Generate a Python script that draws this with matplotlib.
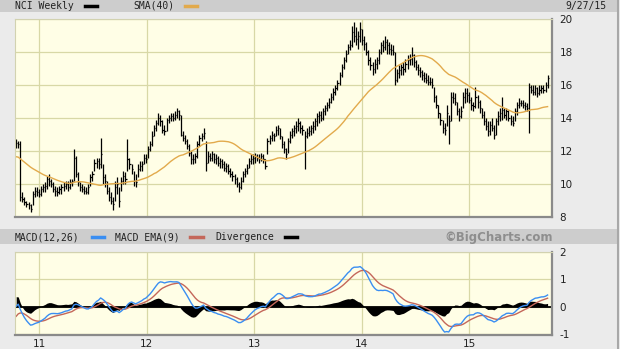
import numpy as np
import pandas as pd
import matplotlib
matplotlib.use("Agg")
import matplotlib.pyplot as plt
from matplotlib.patches import Rectangle
from matplotlib.lines import Line2D

# ---------------- data (weekly) ----------------
# estimated closes before the visible window (warm-up for SMA / MACD)
prior_close = [13.8, 14.0, 14.2, 14.1, 13.9, 14.0, 14.3, 14.5, 14.4, 14.2, 14.0, 13.8, 13.6,
               13.4, 13.2, 13.1, 13.0, 12.9, 12.7, 12.6, 12.7, 12.5, 12.4, 12.6, 12.5, 12.3, 12.2, 12.1,
               12.1, 11.9, 11.8, 11.6, 11.7, 11.5, 11.4, 11.3, 11.1,
               11.0, 10.4, 9.9, 9.6, 9.5, 9.6, 9.7, 9.9, 10.2, 10.6, 11.0, 11.4, 11.8, 12.1, 12.3]

close_2010 = [12.5, 12.4, 9.2, 9.1, 8.9, 8.8, 8.7, 8.5, 9.4, 9.6, 9.5, 9.4]
high_2010 = [12.7, 12.6, 12.6, 9.5, 9.2, 9.0, 8.9, 8.8, 9.6, 9.8, 9.8, 9.7]
low_2010 = [12.2, 12.2, 9.0, 8.9, 8.7, 8.6, 8.5, 8.3, 8.7, 9.2, 9.3, 9.2]

close_2011 = [9.7, 9.8, 9.9, 10.3, 10.2, 10.0, 9.7, 9.6, 9.5, 9.7,
              9.8, 9.9, 10.0, 9.8, 10.1, 10.2, 11.6, 10.6, 10.1, 9.8,
              9.7, 9.6, 9.5, 9.8, 10.4, 10.6, 11.3, 11.4, 11.2, 11.8,
              10.4, 10.2, 9.6, 9.2, 9.0, 8.8, 9.8, 10.0, 9.0, 10.2,
              10.5, 10.3, 11.5, 11.2, 10.9, 10.2, 10.1, 10.9, 11.1, 11.2,
              11.6, 11.5]
high_2011 = [9.9, 10.0, 10.1, 10.5, 10.6, 10.3, 10.1, 9.9, 9.8, 9.9,
             10.0, 10.1, 10.2, 10.2, 10.3, 10.3, 12.1, 11.7, 10.7, 10.1,
             10.0, 9.9, 9.8, 10.0, 10.6, 10.8, 11.5, 11.6, 11.6, 12.8,
             11.2, 10.6, 10.2, 9.8, 9.5, 9.2, 10.2, 10.4, 9.8, 10.4,
             10.8, 10.7, 12.7, 11.6, 11.2, 10.8, 10.6, 11.2, 11.4, 11.4,
             11.8, 11.8]
low_2011 = [9.3, 9.5, 9.5, 9.7, 9.9, 9.8, 9.5, 9.3, 9.3, 9.4,
            9.4, 9.6, 9.7, 9.6, 9.7, 9.9, 10.2, 10.4, 9.9, 9.6,
            9.5, 9.4, 9.4, 9.4, 9.9, 10.2, 10.8, 11.0, 10.9, 11.0,
            10.0, 9.8, 9.4, 9.0, 8.8, 8.4, 9.0, 9.4, 8.6, 9.6,
            10.0, 10.0, 10.8, 10.9, 10.6, 9.9, 9.8, 10.4, 10.8, 10.8,
            11.2, 11.3]

close_2012 = [12.1, 12.4, 12.9, 13.4, 13.7, 14.0, 13.8, 13.3, 13.2, 13.9,
              14.0, 14.1, 14.0, 14.2, 14.4, 14.2, 13.0, 12.8, 12.6, 12.3,
              11.9, 11.5, 11.5, 11.7, 12.4, 12.8, 12.9, 13.1, 11.3, 11.7,
              11.6, 11.8, 11.5, 11.6, 11.3, 11.4, 11.2, 11.0, 11.1, 10.8,
              10.6, 10.5, 10.3, 10.0, 9.8, 10.2, 10.6, 10.8, 11.0, 11.4,
              11.5, 11.6]
high_2012 = [12.3, 12.6, 13.2, 13.6, 13.9, 14.3, 14.2, 13.9, 13.6, 14.0,
             14.2, 14.3, 14.3, 14.4, 14.6, 14.5, 14.2, 13.2, 13.0, 12.7,
             12.4, 12.0, 11.8, 11.9, 12.6, 13.0, 13.1, 13.4, 12.6, 12.0,
             11.9, 12.0, 11.9, 11.8, 11.7, 11.6, 11.5, 11.4, 11.3, 11.2,
             11.0, 10.8, 10.6, 10.4, 10.1, 10.4, 10.8, 11.0, 11.2, 11.6,
             11.8, 11.8]
low_2012 = [11.6, 12.0, 12.3, 12.9, 13.2, 13.6, 13.5, 13.1, 13.0, 13.2,
            13.7, 13.8, 13.8, 13.9, 14.0, 13.9, 12.9, 12.6, 12.4, 12.1,
            11.7, 11.2, 11.2, 11.3, 11.6, 12.3, 12.6, 12.7, 10.8, 11.3,
            11.4, 11.4, 11.3, 11.2, 11.1, 11.0, 11.0, 10.8, 10.7, 10.6,
            10.4, 10.2, 10.0, 9.8, 9.5, 9.7, 10.1, 10.4, 10.6, 11.0,
            11.2, 11.2]

close_2013 = [11.7, 11.6, 11.5, 11.7, 11.5, 11.1, 12.6, 12.8, 13.0, 12.9,
              13.3, 13.4, 12.9, 12.4, 12.1, 11.8, 12.6, 13.0, 13.2, 13.4,
              13.5, 13.7, 13.4, 13.3, 12.9, 13.1, 13.2, 13.4, 13.5, 13.8,
              14.1, 14.2, 14.0, 14.4, 14.6, 14.8, 15.0, 15.3, 15.6, 15.8,
              16.1, 16.6, 17.1, 17.5, 17.9, 18.3, 18.4, 19.2, 19.0, 18.8,
              19.0, 19.4]
high_2013 = [11.9, 11.8, 11.8, 11.9, 11.8, 11.5, 12.8, 13.0, 13.2, 13.1,
             13.5, 13.6, 13.4, 12.9, 12.6, 12.2, 12.8, 13.2, 13.4, 13.6,
             13.8, 14.0, 13.8, 13.6, 13.2, 13.4, 13.5, 13.6, 13.8, 14.0,
             14.3, 14.4, 14.4, 14.6, 14.8, 15.0, 15.2, 15.5, 15.8, 16.0,
             16.3, 16.8, 17.3, 17.7, 18.1, 18.5, 18.7, 19.6, 19.8, 19.5,
             19.3, 19.8]
low_2013 = [11.3, 11.4, 11.3, 11.4, 11.3, 10.9, 11.8, 12.4, 12.6, 12.6,
            12.9, 13.0, 12.7, 12.2, 11.9, 11.5, 11.9, 12.5, 12.8, 12.9,
            13.1, 13.2, 13.1, 13.0, 10.9, 12.8, 12.9, 13.0, 13.1, 13.3,
            13.5, 13.7, 13.8, 13.9, 14.2, 14.4, 14.6, 14.9, 15.1, 15.4,
            15.7, 16.0, 16.5, 17.0, 17.4, 17.9, 18.1, 18.3, 18.6, 18.4,
            18.2, 18.6]

close_2014 = [18.7, 18.5, 18.0, 17.5, 17.2, 17.0, 17.3, 17.5, 18.0, 18.4,
              18.3, 18.6, 18.4, 18.2, 18.1, 18.0, 16.3, 16.7, 16.9, 17.1,
              17.0, 17.3, 17.5, 17.6, 17.8, 17.4, 17.1, 16.9, 16.8, 16.6,
              16.4, 16.3, 16.2, 16.2, 16.0, 15.3, 14.8, 14.3, 13.9, 13.4,
              13.3, 14.3, 13.8, 15.3, 15.2, 15.0, 14.4, 14.1, 14.4, 15.3,
              15.5, 15.4]
high_2014 = [19.4, 19.0, 18.6, 18.1, 17.7, 17.4, 17.6, 17.7, 18.2, 18.6,
             18.7, 19.0, 18.8, 18.6, 18.5, 18.4, 18.0, 17.0, 17.2, 17.3,
             17.4, 17.6, 17.8, 17.9, 18.3, 17.9, 17.5, 17.3, 17.1, 16.9,
             16.8, 16.7, 16.6, 16.5, 16.4, 15.9, 15.4, 14.8, 14.3, 13.9,
             13.7, 14.8, 14.2, 15.6, 15.6, 15.5, 15.0, 14.6, 14.7, 15.6,
             15.8, 15.8]
low_2014 = [18.4, 18.1, 17.8, 17.2, 16.9, 16.6, 16.7, 17.0, 17.3, 17.9,
            18.0, 18.1, 17.9, 17.9, 17.8, 17.8, 16.0, 16.2, 16.4, 16.6,
            16.6, 16.8, 17.0, 17.2, 17.2, 17.1, 16.9, 16.6, 16.5, 16.3,
            16.2, 16.1, 16.0, 16.0, 15.8, 15.0, 14.6, 14.0, 13.6, 13.1,
            13.0, 13.5, 12.4, 13.8, 14.9, 14.8, 14.2, 13.8, 14.0, 14.6,
            14.9, 15.0]

close_2015 = [15.1, 14.8, 14.7, 15.3, 15.0, 14.6, 14.2, 13.8, 13.5, 13.2,
              13.6, 13.4, 13.0, 13.8, 14.1, 14.3, 14.5, 14.2, 14.4, 14.0,
              13.8, 13.7, 14.4, 14.8, 14.9, 14.9, 14.8, 14.7, 14.6, 15.9,
              15.7, 15.6, 15.8, 15.5, 15.7, 15.8, 15.7, 16.0, 16.4]
high_2015 = [15.6, 15.3, 15.0, 15.9, 15.4, 15.1, 14.6, 14.4, 14.0, 13.8,
             13.8, 14.0, 13.6, 14.0, 14.4, 14.6, 15.3, 14.6, 14.6, 14.5,
             14.2, 14.1, 14.6, 15.0, 15.2, 15.1, 15.1, 15.0, 14.9, 16.1,
             16.0, 16.0, 16.0, 15.9, 16.0, 16.0, 16.0, 16.2, 16.6]
low_2015 = [14.9, 14.5, 14.4, 14.6, 14.6, 14.3, 14.0, 13.6, 13.3, 12.9,
            13.0, 13.2, 12.7, 13.0, 13.6, 13.8, 13.9, 14.0, 13.9, 13.8,
            13.6, 13.5, 13.8, 14.2, 14.6, 14.7, 14.6, 14.5, 14.4, 13.1,
            15.5, 15.4, 15.4, 15.3, 15.4, 15.5, 15.5, 15.6, 15.8]

price_ticks = [8, 10, 12, 14, 16, 18, 20]
macd_ticks = [-1, 0, 1, 2]
year_labels = ["11", "12", "13", "14", "15"]
last_date = "2015-09-25"
date_label = "9/27/15"

# ---------------- derived series ----------------
close = np.array(close_2010 + close_2011 + close_2012 + close_2013 + close_2014 + close_2015)
high = np.array(high_2010 + high_2011 + high_2012 + high_2013 + high_2014 + high_2015)
low = np.array(low_2010 + low_2011 + low_2012 + low_2013 + low_2014 + low_2015)
n_prior = len(prior_close)
s_all = pd.Series(list(prior_close) + list(close))
sma = s_all.rolling(40).mean().to_numpy()[n_prior:]
ema12 = s_all.ewm(span=12, adjust=False).mean()
ema26 = s_all.ewm(span=26, adjust=False).mean()
macd_all = ema12 - ema26
sig_all = macd_all.ewm(span=9, adjust=False).mean()
macd = macd_all.to_numpy()[n_prior:]
sig = sig_all.to_numpy()[n_prior:]
div = macd - sig

dates = pd.date_range(end=last_date, periods=len(close), freq="W-FRI")
xmin = pd.Timestamp("2010-10-11")
xmax = pd.Timestamp("2015-10-10")
years = [pd.Timestamp(f"20{y}-01-01") for y in year_labels]

# ---------------- figure ----------------
W, H = 620, 349
fig = plt.figure(figsize=(W / 100, H / 100), dpi=100)
fig.patch.set_facecolor("#ebebeb")

def fx(px):
    return px / W

def fy(py):
    return 1 - py / H

# header bands
fig.patches.append(Rectangle((0, fy(12)), fx(618), 12 / H, transform=fig.transFigure,
                             facecolor="#cdcdcd", edgecolor="none", zorder=0))
fig.patches.append(Rectangle((0, fy(244)), fx(618), 15 / H, transform=fig.transFigure,
                             facecolor="#cdcdcd", edgecolor="none", zorder=0))
fig.lines.append(Line2D([fx(618), fx(618)], [0, 1], transform=fig.transFigure,
                        color="#a8a8a8", lw=1.5))

ax1 = fig.add_axes([fx(15), fy(217), (552 - 15) / W, (217 - 19) / H])
ax2 = fig.add_axes([fx(15), fy(335), (552 - 15) / W, (335 - 252) / H])

for ax in (ax1, ax2):
    ax.set_facecolor("#fffee6")
    ax.set_xlim(xmin, xmax)
    for sp in ("top", "left"):
        ax.spines[sp].set_color("#d2d2b0")
        ax.spines[sp].set_linewidth(0.8)
    for sp in ("bottom", "right"):
        ax.spines[sp].set_color("#8a8a8a")
        ax.spines[sp].set_linewidth(1.6)
    ax.yaxis.tick_right()
    ax.tick_params(axis="both", length=0, labelsize=7.5, colors="#222222")
    ax.tick_params(axis="y", pad=5.5)
    ax.grid(True, color="#d8d8a6", lw=0.9)
    ax.set_axisbelow(True)
    ax.set_xticks(years)

# price panel
ax1.set_ylim(8, 20)
ax1.set_yticks(price_ticks)
ax1.set_xticklabels([])
ax1.vlines(dates, low, high, color="black", lw=0.9)
ax1.hlines(close, dates, dates + pd.Timedelta(days=4), color="black", lw=0.9)
ax1.plot(dates, sma, color="#e2aa4c", lw=1.0)

# MACD panel
ax2.set_ylim(-1.04, 2.0)
ax2.set_yticks(macd_ticks)
ax2.set_yticklabels(["\u22121".replace("\u2212", "-") if t < 0 else str(t) for t in macd_ticks])
ax2.set_xticklabels(year_labels)
ax2.tick_params(axis="x", pad=3)
ax2.fill_between(dates, 0, div, color="black", lw=0)
ax2.axhline(0, color="black", lw=1.3)
ax2.plot(dates, sig, color="#c4675a", lw=1.0)
ax2.plot(dates, macd, color="#3a8ef2", lw=1.0)

# header texts / legends
mono = dict(family="DejaVu Sans Mono", fontsize=7, color="#222222", va="center")
fig.text(fx(15), fy(6), "NCI Weekly", ha="left", **mono)
fig.lines.append(Line2D([fx(85), fx(97)], [fy(6), fy(6)], transform=fig.transFigure, color="black", lw=2.5))
fig.text(fx(133), fy(6), "SMA(40)", ha="left", **mono)
fig.lines.append(Line2D([fx(185), fx(197)], [fy(6), fy(6)], transform=fig.transFigure, color="#e2aa4c", lw=2.5))
fig.text(fx(607), fy(5.5), date_label, ha="right", **mono)

fig.text(fx(15), fy(237), "MACD(12,26)", ha="left", **mono)
fig.lines.append(Line2D([fx(92), fx(104)], [fy(237), fy(237)], transform=fig.transFigure, color="#3a8ef2", lw=2.5))
fig.text(fx(115), fy(237), "MACD EMA(9)", ha="left", **mono)
fig.lines.append(Line2D([fx(190), fx(203)], [fy(237), fy(237)], transform=fig.transFigure, color="#c4675a", lw=2.5))
fig.text(fx(215), fy(237), "Divergence", ha="left", **mono)
fig.lines.append(Line2D([fx(285), fx(297)], [fy(237), fy(237)], transform=fig.transFigure, color="black", lw=2.5))
fig.text(fx(553), fy(237), "\u00a9BigCharts.com", ha="right", va="center",
         family="DejaVu Sans", fontweight="bold", fontsize=8.5, color="#8e8e8e")

fig.savefig("out.png", dpi=100, facecolor=fig.get_facecolor())
